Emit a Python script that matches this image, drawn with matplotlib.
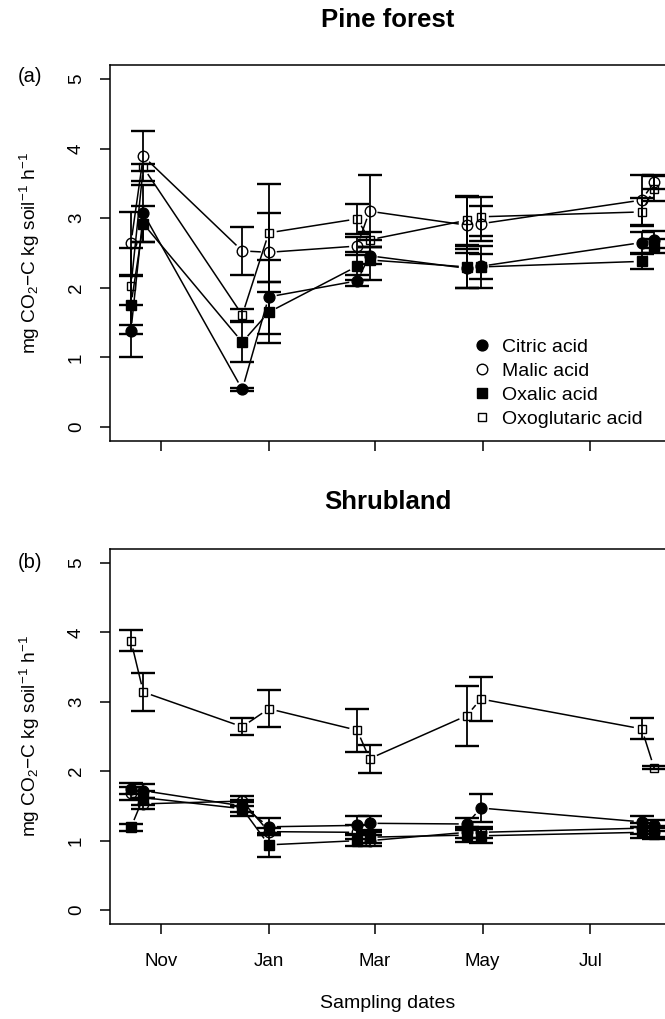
import numpy as np
import matplotlib
matplotlib.use("Agg")
import matplotlib.pyplot as plt
import matplotlib.dates as mdates
from matplotlib.lines import Line2D

plt.rcParams['font.family'] = ['Liberation Sans', 'DejaVu Sans']
plt.rcParams['mathtext.fontset'] = 'custom'
plt.rcParams['mathtext.rm'] = 'Liberation Sans'
plt.rcParams['mathtext.it'] = 'Liberation Sans:italic'
plt.rcParams['mathtext.bf'] = 'Liberation Sans:bold'

# ---- data -------------------------------------------------------------
sampling_dates = ["2011-10-15", "2011-10-22", "2011-12-17", "2012-01-01",
                  "2012-02-20", "2012-02-27", "2012-04-22", "2012-04-30",
                  "2012-07-30", "2012-08-06"]
month_ticks = ["2011-11-01", "2012-01-01", "2012-03-01", "2012-05-01", "2012-07-01"]
month_labels = ["Nov", "Jan", "Mar", "May", "Jul"]
acids = ["Citric acid", "Malic acid", "Oxalic acid", "Oxoglutaric acid"]

# Pine forest: mean respiration and standard error
pine_citric = [1.38, 3.07, 0.54, 1.87, 2.10, 2.46, 2.28, 2.31, 2.65, 2.69]
pine_citric_se = [0.38, 0.41, 0.02, 0.53, 0.08, 0.12, 0.28, 0.18, 0.15, 0.12]
pine_malic = [2.64, 3.89, 2.53, 2.51, 2.60, 3.10, 2.90, 2.92, 3.26, 3.52]
pine_malic_se = [0.45, 0.36, 0.35, 0.57, 0.13, 0.52, 0.40, 0.25, 0.36, 0.10]
pine_oxalic = [1.75, 2.92, 1.22, 1.65, 2.31, 2.40, 2.30, 2.30, 2.38, 2.60]
pine_oxalic_se = [0.42, 0.26, 0.29, 0.44, 0.20, 0.29, 0.30, 0.30, 0.11, 0.10]
pine_oxoglutaric = [2.02, 3.73, 1.61, 2.79, 2.99, 2.69, 2.97, 3.02, 3.09, 3.42]
pine_oxoglutaric_se = [0.55, 0.05, 0.09, 0.70, 0.21, 0.11, 0.35, 0.28, 0.20, 0.18]

# Shrubland: mean respiration and standard error
shrub_citric = [1.75, 1.72, 1.50, 1.20, 1.22, 1.25, 1.24, 1.47, 1.27, 1.22]
shrub_citric_se = [0.08, 0.10, 0.08, 0.12, 0.13, 0.10, 0.08, 0.20, 0.08, 0.08]
shrub_malic = [1.68, 1.53, 1.57, 1.13, 1.12, 1.00, 1.12, 1.12, 1.18, 1.13]
shrub_malic_se = [0.10, 0.08, 0.07, 0.05, 0.10, 0.08, 0.08, 0.08, 0.08, 0.08]
shrub_oxalic = [1.19, 1.62, 1.46, 0.94, 1.00, 1.05, 1.08, 1.07, 1.12, 1.10]
shrub_oxalic_se = [0.05, 0.10, 0.10, 0.17, 0.08, 0.08, 0.10, 0.10, 0.08, 0.08]
shrub_oxoglutaric = [3.88, 3.14, 2.64, 2.90, 2.59, 2.18, 2.80, 3.04, 2.61, 2.05]
shrub_oxoglutaric_se = [0.15, 0.27, 0.12, 0.27, 0.31, 0.20, 0.43, 0.31, 0.15, 0.02]

pine = [(pine_citric, pine_citric_se), (pine_malic, pine_malic_se),
        (pine_oxalic, pine_oxalic_se), (pine_oxoglutaric, pine_oxoglutaric_se)]
shrub = [(shrub_citric, shrub_citric_se), (shrub_malic, shrub_malic_se),
         (shrub_oxalic, shrub_oxalic_se), (shrub_oxoglutaric, shrub_oxoglutaric_se)]

# ---- styling ----------------------------------------------------------
markers = {
    "Citric acid": dict(marker='o', mfc='black', mec='black', ms=7.8),
    "Malic acid": dict(marker='o', mfc='none', mec='black', ms=7.6, mew=1.0),
    "Oxalic acid": dict(marker='s', mfc='black', mec='black', ms=6.6),
    "Oxoglutaric acid": dict(marker='s', mfc='none', mec='black', ms=6.3, mew=1.0),
}

W, H, DPI = 665, 1019, 100
fig = plt.figure(figsize=(W / DPI, H / DPI), dpi=DPI)


def axes_px(left, right, top, bottom):
    return fig.add_axes([left / W, 1 - bottom / H, (right - left) / W, (bottom - top) / H])


x = mdates.datestr2num(sampling_dates)
xt = mdates.datestr2num(month_ticks)
span = x.max() - x.min()
xlim = (x.min() - 0.04 * span, x.max() + 0.04 * span)
ylim = (-0.2, 5.2)
GAP = 8.0  # pixels left blank around each point on connecting lines


def gapped_lines(ax, xs, ys):
    pts = ax.transData.transform(np.column_stack([xs, ys]))
    inv = ax.transData.inverted()
    for p0, p1 in zip(pts[:-1], pts[1:]):
        d = p1 - p0
        L = np.hypot(*d)
        if L <= 2 * GAP:
            continue
        u = d / L
        a = inv.transform(p0 + u * GAP)
        b = inv.transform(p1 - u * GAP)
        ax.plot([a[0], b[0]], [a[1], b[1]], color='black', lw=1.1,
                solid_capstyle='butt', scalex=False, scaley=False)


def panel(ax, series, show_xlabels):
    ax.set_xlim(*xlim)
    ax.set_ylim(*ylim)
    for name, (vals, se) in zip(acids, series):
        ax.errorbar(x, vals, yerr=se, fmt='none', ecolor='black',
                    elinewidth=1.3, capsize=8.6, capthick=1.7)
        gapped_lines(ax, x, np.asarray(vals))
        ax.plot(x, vals, ls='none', scalex=False, scaley=False, **markers[name])
    ax.set_xlim(*xlim)
    ax.set_ylim(*ylim)
    ax.set_xticks(xt)
    ax.set_xticklabels(month_labels if show_xlabels else [])
    ax.set_yticks(range(6))
    ax.set_yticklabels([str(v) for v in range(6)], rotation=90, va='center')
    ax.tick_params(direction='out', length=7, width=1.1, labelsize=13.5)
    ax.tick_params(axis='x', pad=14)
    ax.tick_params(axis='y', pad=11)
    for s in ax.spines.values():
        s.set_linewidth(1.1)


ax1 = axes_px(110, 675, 65, 441)
ax2 = axes_px(110, 675, 549, 924)
panel(ax1, pine, False)
panel(ax2, shrub, True)

handles = [Line2D([], [], ls='none', **markers[n]) for n in acids]
ax1.legend(handles, acids, loc='upper left', bbox_to_anchor=(0.645, 0.274),
           frameon=False, fontsize=14, handlelength=0.8, handletextpad=0.6,
           labelspacing=0.34, borderpad=0, borderaxespad=0)

ylab = "mg CO$_2$\u2212C kg soil$^{-1}$ h$^{-1}$"
for ax, title, ty in [(ax1, "Pine forest", 20), (ax2, "Shrubland", 502)]:
    bb = ax.get_position()
    fig.text(30 / W, bb.y0 + bb.height / 2, ylab, rotation=90,
             ha='center', va='center', fontsize=13.8)
    fig.text(388 / W, 1 - ty / H, title, ha='center', va='center',
             fontsize=18.5, fontweight='bold')
fig.text(30 / W, 1 - 77 / H, "(a)", ha='center', va='center', fontsize=14.5)
fig.text(30 / W, 1 - 562 / H, "(b)", ha='center', va='center', fontsize=14.5)
fig.text(388 / W, 1 - 1003 / H, "Sampling dates", ha='center', va='center', fontsize=14)

fig.savefig("out.png", dpi=DPI)
